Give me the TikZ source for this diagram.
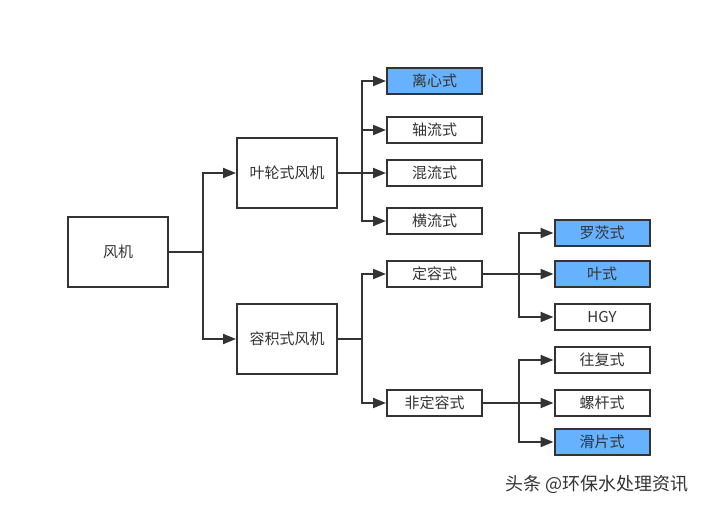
\documentclass[tikz,border=0pt]{standalone}
\usepackage{fontspec}
\setmainfont{Noto Sans CJK SC}
\usepackage{tikz}
\usetikzlibrary{arrows.meta}

\definecolor{linegray}{HTML}{333333}
\definecolor{hiblue}{HTML}{66B2FF}

\begin{document}
\begin{tikzpicture}[x=1pt, y=-1pt, line width=2pt, draw=linegray,
  bigbox/.style={rectangle, draw=linegray, fill=white, minimum width=100pt, minimum height=70pt, font=\fontsize{15}{17}\selectfont, text=linegray},
  smallbox/.style={rectangle, draw=linegray, fill=white, minimum width=95pt, minimum height=26pt, font=\fontsize{15}{17}\selectfont, text=linegray},
  hibox/.style={smallbox, fill=hiblue},
  arr/.style={draw=linegray, -{Triangle[length=13pt, width=10pt]}},
  ln/.style={draw=linegray}]
\useasboundingbox (0,0) rectangle (702,508);

\node [bigbox] (fan) at (118,252) {风机};
\node [bigbox] (impeller) at (287,173) {叶轮式风机};
\node [bigbox] (volume) at (287,339) {容积式风机};

\node [hibox] (centri) at (434.5,81) {离心式};
\node [smallbox] (axial) at (434.5,130) {轴流式};
\node [smallbox] (mixed) at (434.5,173) {混流式};
\node [smallbox] (cross) at (434.5,221) {横流式};
\node [smallbox] (fixed) at (434.5,274) {定容式};
\node [smallbox] (varied) at (434.5,403) {非定容式};

\node [hibox] (roots) at (602,233) {罗茨式};
\node [hibox] (vane) at (602,274) {叶式};
\node [smallbox] (hgy) at (602,317) {HGY};
\node [smallbox] (recip) at (602,360) {往复式};
\node [smallbox] (screw) at (602,403) {螺杆式};
\node [hibox] (slide) at (602,442) {滑片式};

\coordinate (j1) at (203,252);
\coordinate (j2) at (362,173);
\coordinate (j3) at (362,339);
\coordinate (j4) at (519,274);
\coordinate (j5) at (519,403);

\draw[ln] (fan.east) -- (j1);
\draw[arr] (j1) |- (impeller.west);
\draw[arr] (j1) |- (volume.west);

\draw[ln] (impeller.east) -- (j2);
\draw[arr] (j2) |- (centri.west);
\draw[arr] (j2) |- (axial.west);
\draw[arr] (j2) -- (mixed.west);
\draw[arr] (j2) |- (cross.west);

\draw[ln] (volume.east) -- (j3);
\draw[arr] (j3) |- (fixed.west);
\draw[arr] (j3) |- (varied.west);

\draw[ln] (fixed.east) -- (j4);
\draw[arr] (j4) |- (roots.west);
\draw[arr] (j4) -- (vane.west);
\draw[arr] (j4) |- (hgy.west);

\draw[ln] (varied.east) -- (j5);
\draw[arr] (j5) |- (recip.west);
\draw[arr] (j5) -- (screw.west);
\draw[arr] (j5) |- (slide.west);

\node [font=\fontsize{18}{20}\selectfont, text=linegray] (mark) at (597,484) {头条 @环保水处理资讯};
\end{tikzpicture}
\end{document}
